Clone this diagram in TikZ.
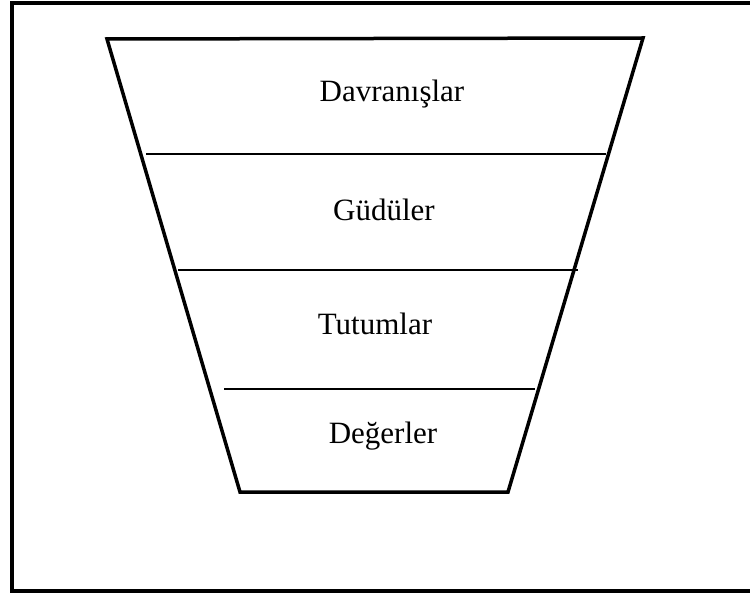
\documentclass[tikz,border=0pt]{standalone}
\usepackage{fontspec}
\setmainfont{Liberation Serif}
\usetikzlibrary{calc}
\begin{document}
\begin{tikzpicture}[x=1pt,y=-1pt]
  		\tikzset{layer/.style={font=\fontsize{31}{36}\selectfont}}
  		\useasboundingbox (0,0) rectangle (750,596);
  		% frame, open on the right
  		\draw[line width=3.5pt] (750,3) -- (12,3) -- (12,591) -- (750,591);
  		% funnel
  		\coordinate (tl) at (107,39);
  		\coordinate (tr) at (643,38);
  		\coordinate (br) at (508,492);
  		\coordinate (bl) at (240,492);
  		\draw[line width=3.5pt, line join=miter] (tl) -- (tr) -- (br) -- (bl) -- cycle;
  		\draw[line width=1.4pt] (146,154) -- (606,154);
  		\draw[line width=1.4pt] (178,270) -- (578,270);
  		\draw[line width=1.4pt] (224,389) -- (535,389);
  		\node[layer] (davranis) at (392,94) {Davranışlar};
  		\node[layer] (gudu) at (384,210) {Güdüler};
  		\node[layer] (tutum) at (375,324) {Tutumlar};
  		\node[layer] (deger) at (383,436) {Değerler};
  	\end{tikzpicture}
\end{document}
